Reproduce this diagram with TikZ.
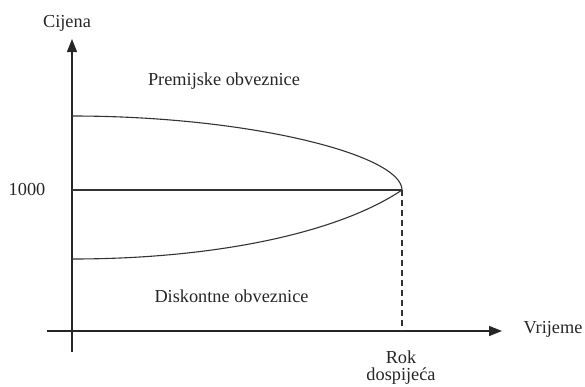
\documentclass[tikz,border=0pt]{standalone}
\usepackage{fontspec}
\setmainfont{Liberation Serif}
\usetikzlibrary{arrows.meta}
\begin{document}
\begin{tikzpicture}[x=1pt,y=-1pt,
  lbl/.style={font=\fontsize{18.3}{21}\selectfont,text=black!85,inner sep=0pt,anchor=base},
  axis/.style={line width=1.4pt,draw=black!85,-{Triangle[length=13pt,width=10pt]}},
  curve/.style={line width=1.1pt,draw=black!80},
  dashline/.style={line width=1.1pt,draw=black!80,dash pattern=on 6pt off 4pt}]
\useasboundingbox (0,0) rectangle (585,386);
% coordinates
\coordinate (ybot) at (72,352);
\coordinate (ytop) at (72,39);
\coordinate (xleft) at (47,331);
\coordinate (xright) at (502,331);
\coordinate (upstart) at (72,116);
\coordinate (mid) at (72,190);
\coordinate (lowstart) at (72,259);
\coordinate (mat) at (402,190);
\coordinate (matax) at (402,331);
% axes
\draw[axis] (ybot) -- (ytop);
\draw[axis] (xleft) -- (xright);
% curves
\draw[curve] (upstart) .. controls (250,116) and (402,155) .. (mat);
\draw[curve] (mid) -- (mat);
\draw[curve] (lowstart) .. controls (215,259) and (338,233) .. (mat);
\draw[dashline] (mat) -- (matax);
% labels
\node[lbl] (cij) at (67,27) {Cijena};
\node[lbl] (prem) at (224,85) {Premijske obveznice};
\node[lbl] (thou) at (27,195) {1000};
\node[lbl] (disk) at (231.5,302) {Diskontne obveznice};
\node[lbl] (vrij) at (553,333) {Vrijeme};
\node[lbl,font=\fontsize{18.3}{16.5}\selectfont,align=center,anchor=north] (rok) at (401,351) {Rok\\dospijeća};
\end{tikzpicture}
\end{document}
